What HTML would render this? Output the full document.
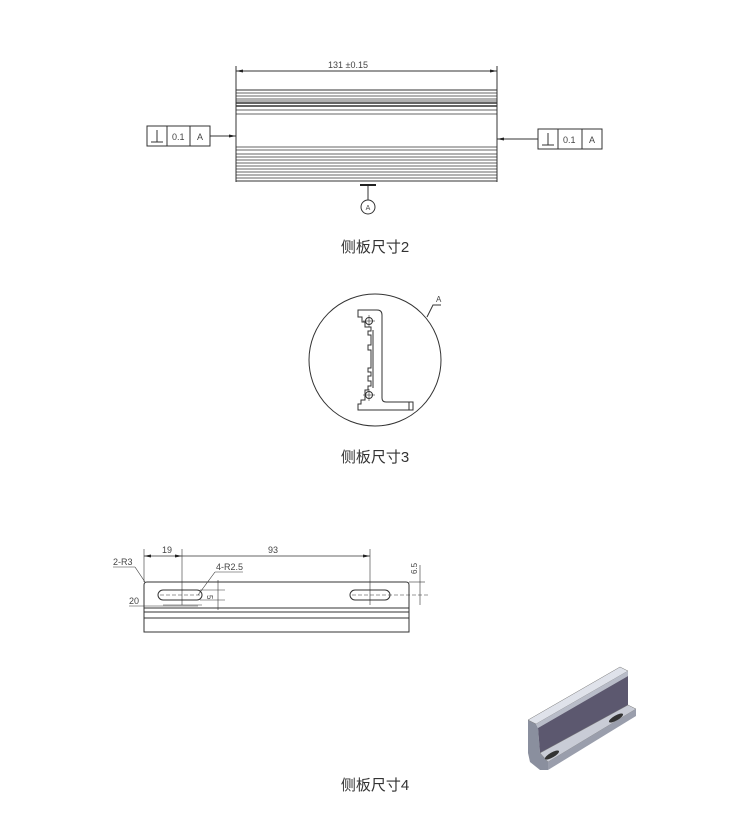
<!DOCTYPE html>
<html><head><meta charset="utf-8"><style>
body{margin:0;background:#fff;}
svg{display:block}
text{font-family:"Liberation Sans","Noto Sans CJK SC",sans-serif;}
</style></head><body>
<svg width="750" height="832" viewBox="0 0 750 832" xmlns="http://www.w3.org/2000/svg">
<g stroke="#333" fill="none" stroke-width="1">
<line x1="236" y1="66" x2="236" y2="182"/><line x1="497" y1="66" x2="497" y2="182"/>
<line x1="236" y1="71" x2="497" y2="71"/>
<rect x="236" y="90" width="261" height="91"/>
<g stroke-width="0.8">
<line x1="236" y1="93" x2="497" y2="93"/><line x1="236" y1="96" x2="497" y2="96"/>
<line x1="236" y1="99" x2="497" y2="99"/><line x1="236" y1="101" x2="497" y2="101"/>
<line x1="236" y1="103" x2="497" y2="103" stroke-width="1.5"/><line x1="236" y1="106" x2="497" y2="106" stroke-width="1.5"/>
<line x1="236" y1="110" x2="497" y2="110"/><line x1="236" y1="114" x2="497" y2="114"/>
<line x1="236" y1="147" x2="497" y2="147"/><line x1="236" y1="150" x2="497" y2="150"/>
<line x1="236" y1="154" x2="497" y2="154"/><line x1="236" y1="157" x2="497" y2="157"/>
<line x1="236" y1="160" x2="497" y2="160"/><line x1="236" y1="163" x2="497" y2="163"/>
<line x1="236" y1="166" x2="497" y2="166"/><line x1="236" y1="169" x2="497" y2="169"/>
<line x1="236" y1="172" x2="497" y2="172"/><line x1="236" y1="175" x2="497" y2="175"/>
<line x1="236" y1="178" x2="497" y2="178"/>
</g>
<rect x="147" y="126" width="63" height="20"/><line x1="167" y1="126" x2="167" y2="146"/><line x1="190" y1="126" x2="190" y2="146"/>
<line x1="151" y1="142" x2="163" y2="142"/><line x1="157" y1="130" x2="157" y2="142"/>
<line x1="210" y1="136" x2="236" y2="136"/>
<rect x="538" y="129" width="64" height="20"/><line x1="558" y1="129" x2="558" y2="149"/><line x1="582" y1="129" x2="582" y2="149"/>
<line x1="542" y1="145" x2="554" y2="145"/><line x1="548" y1="133" x2="548" y2="145"/>
<line x1="497" y1="139" x2="538" y2="139"/>
<line x1="368" y1="185" x2="368" y2="200"/>
<circle cx="368" cy="207" r="7"/>
<circle cx="375" cy="360" r="66"/>
<polyline points="427,317 433,305 441,305"/>
<path d="M382 315 Q382 310 377 310 L358 310 L358 317 L362 317 L362 322 L365 322 L365 327 L371 327 L371 331 L368 331 L368 335 L371 335 L371 345 L368 345 L368 350 L371 350 L371 368 L368 368 L368 372 L371 372 L371 376 L368 376 L368 381 L371 381 L371 386 L368 386 L368 390 L365 390 L365 400 L361 400 L361 404 L358 404 L358 410 L413 410 L413 402 L386 402 Q382 402 382 398 Z"/>
<line x1="373" y1="330" x2="373" y2="388"/>
<line x1="409" y1="402" x2="409" y2="410"/>
<circle cx="369" cy="321" r="3.5"/><circle cx="369" cy="395" r="3.5"/>
<line x1="363" y1="321" x2="375" y2="321" stroke-width="0.6"/><line x1="369" y1="315" x2="369" y2="327" stroke-width="0.6"/>
<line x1="363" y1="395" x2="375" y2="395" stroke-width="0.6"/><line x1="369" y1="389" x2="369" y2="401" stroke-width="0.6"/>
<path d="M144 632 L144 585 Q144 582 147 582 L406 582 Q409 582 409 585 L409 632 Z"/>
<line x1="144" y1="608" x2="409" y2="608"/><line x1="144" y1="612" x2="409" y2="612"/><line x1="144" y1="618" x2="409" y2="618"/>
<rect x="158" y="590" width="44" height="10" rx="5"/><rect x="350" y="590" width="40" height="10" rx="5"/>
<line x1="160" y1="595" x2="200" y2="595" stroke-dasharray="4,2" stroke-width="0.6"/>
<line x1="352" y1="595" x2="430" y2="595" stroke-dasharray="4,2" stroke-width="0.6"/>
<line x1="144" y1="549" x2="144" y2="582" stroke-width="0.6"/>
<line x1="182" y1="549" x2="182" y2="605" stroke-width="0.6"/>
<line x1="370" y1="549" x2="370" y2="605" stroke-width="0.6"/>
<line x1="144" y1="556" x2="370" y2="556" stroke-width="0.7"/>
<line x1="113" y1="567" x2="135" y2="567" stroke-width="0.6"/><line x1="135" y1="567" x2="145" y2="582" stroke-width="0.6"/>
<line x1="215" y1="572" x2="243" y2="572" stroke-width="0.6"/><line x1="215" y1="572" x2="198" y2="595" stroke-width="0.6"/>
<line x1="129" y1="606" x2="198" y2="606" stroke-width="0.6"/>
<line x1="163" y1="605" x2="202" y2="605" stroke-width="0.6"/>
<line x1="218" y1="580" x2="218" y2="610" stroke-width="0.6"/>
<line x1="200" y1="590" x2="225" y2="590" stroke-width="0.6"/><line x1="200" y1="600" x2="225" y2="600" stroke-width="0.6"/>
<line x1="409" y1="582" x2="425" y2="582" stroke-width="0.6"/>
<line x1="420" y1="565" x2="420" y2="605" stroke-width="0.6"/>
</g>
<g fill="#222">
<polygon points="236,71 243,69.5 243,72.5"/><polygon points="497,71 490,69.5 490,72.5"/>
<polygon points="236,136 229,134.5 229,137.5"/><polygon points="497,139 504,137.5 504,140.5"/>
<rect x="360" y="184" width="16" height="2"/>
<polygon points="144,556 151,554.5 151,557.5"/><polygon points="182,556 175,554.5 175,557.5"/><polygon points="370,556 363,554.5 363,557.5"/>
</g>
<g font-size="9" fill="#444">
<text x="348" y="68" text-anchor="middle">131 ±0.15</text>
<text x="172" y="140">0.1</text><text x="197" y="140">A</text>
<text x="563" y="143">0.1</text><text x="589" y="143">A</text>
<text x="368" y="210" text-anchor="middle" font-size="7">A</text>
<text x="436" y="302" font-size="8">A</text>
<text x="162" y="553">19</text><text x="268" y="553">93</text>
<text x="113" y="565">2-R3</text><text x="216" y="570">4-R2.5</text>
<text x="129" y="604">20</text>
<text x="211" y="599" transform="rotate(90 211 595)" font-size="8">5</text>
<text x="414" y="577" transform="rotate(-90 414 574)" font-size="8">6.5</text>
</g>
<g font-size="15" fill="#333" text-anchor="middle">
<text x="375" y="252">侧板尺寸2</text>
<text x="375" y="462">侧板尺寸3</text>
<text x="375" y="790">侧板尺寸4</text>
</g>
<!-- 3D part -->
<polygon points="528,720 536,724 538,728 540,753 548,762 548,770 540,770 530,762 528,753" fill="#8a8f9e"/>
<polygon points="528,720 620,667 628,671 536,724" fill="#dfe2ea" stroke="#777" stroke-width="0.5"/>
<polygon points="536,724 628,671 628,676 538,728" fill="#b8bcc8"/>
<polygon points="538,728 628,676 628,705 540,753" fill="#5c586f"/>
<polygon points="540,753 628,705 636,709 548,762" fill="#c9ccd6" stroke="#777" stroke-width="0.5"/>
<polygon points="548,762 636,709 636,716 548,770" fill="#9a9eac"/>
<ellipse cx="552" cy="755" rx="8" ry="2.5" fill="#333" transform="rotate(-30 552 755)"/>
<ellipse cx="616" cy="718" rx="8" ry="2.5" fill="#333" transform="rotate(-30 616 718)"/>
</svg>
</body></html>
